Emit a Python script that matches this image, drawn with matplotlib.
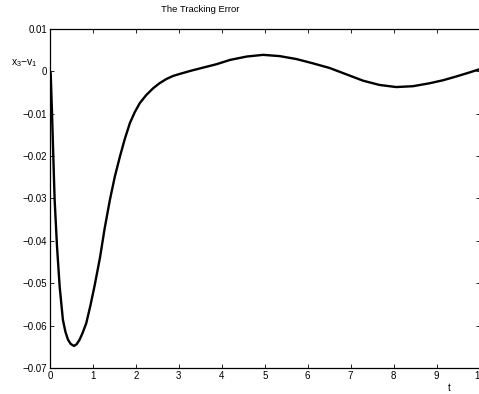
import matplotlib
matplotlib.use("Agg")
import matplotlib.pyplot as plt

t = [0.0, 0.016, 0.047, 0.077, 0.108, 0.163, 0.225, 0.30, 0.36, 0.419, 0.48,
     0.558, 0.62, 0.69, 0.76, 0.845, 0.94, 1.04, 1.163, 1.27, 1.395, 1.51, 1.628,
     1.74, 1.86, 1.97, 2.09, 2.24, 2.40, 2.55, 2.71, 2.86, 3.02, 3.3, 3.57, 3.88,
     4.19, 4.58, 4.96, 5.35, 5.74, 6.12, 6.51, 6.9, 7.29, 7.67, 8.06, 8.45, 8.84,
     9.15, 9.46, 9.72, 10.0]
err = [0.0, -0.0004, -0.0099, -0.0201, -0.0303, -0.0413, -0.0508, -0.0586,
       -0.0615, -0.0633, -0.0643, -0.0648, -0.0644, -0.0633, -0.0617, -0.0594,
       -0.0553, -0.0505, -0.0440, -0.0372, -0.0303, -0.0248, -0.0201, -0.0160,
       -0.0122, -0.0097, -0.0075, -0.0056, -0.0040, -0.0028, -0.0018, -0.0011,
       -0.0006, 0.0002, 0.0009, 0.0017, 0.0027, 0.0035, 0.0039, 0.0036, 0.0029,
       0.0019, 0.0008, -0.0007, -0.0022, -0.0032, -0.0037, -0.0035, -0.0028,
       -0.0021, -0.0012, -0.0004, 0.0005]

xticks = [0, 1, 2, 3, 4, 5, 6, 7, 8, 9, 10]
yticks = [0.01, 0, -0.01, -0.02, -0.03, -0.04, -0.05, -0.06, -0.07]
ylabels = ["0.01", "0", "\u22120.01", "\u22120.02", "\u22120.03", "\u22120.04",
           "\u22120.05", "\u22120.06", "\u22120.07"]

plt.rcParams['font.family'] = ['Liberation Sans', 'DejaVu Sans']
fig = plt.figure(figsize=(4.79, 3.94), dpi=100)
W, H = 479, 394
ax = fig.add_axes([50 / W, 26 / H, 429.5 / W, 339 / H])
ax.plot(t, err, color='black', lw=1.7, solid_joinstyle='round')
ax.set_xlim(0, 10)
ax.set_ylim(-0.07, 0.01)
ax.set_xticks(xticks)
ax.set_xticklabels([str(v) for v in xticks])
ax.set_yticks(yticks)
ax.set_yticklabels(ylabels)
ax.tick_params(direction='in', length=3, width=0.6, labelsize=7, pad=2,
               top=True, right=True)
for s in ax.spines.values():
    s.set_linewidth(0.9)

fig.text(200 / W, 1 - 10 / H, "The Tracking Error", ha='center', va='center', fontsize=6.8)
fig.text(24 / W, 1 - 63 / H, r"$\mathregular{x_3{-}v_1}$", ha='center', va='center', fontsize=7.5)
fig.text(449 / W, 1 - 388 / H, "t", ha='center', va='center', fontsize=7)

fig.savefig("out.png", dpi=100)
